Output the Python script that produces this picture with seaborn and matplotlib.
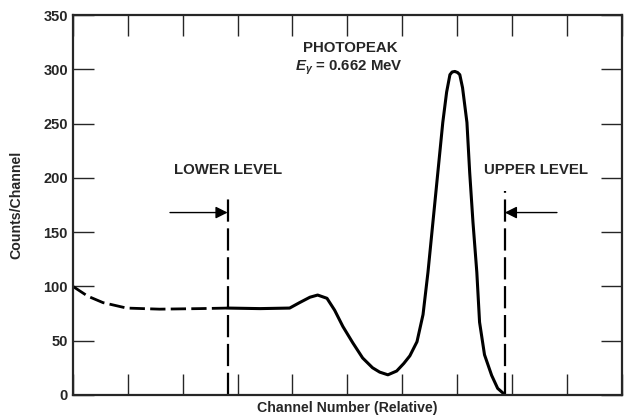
import numpy as np
import pandas as pd
import matplotlib
matplotlib.use("Agg")
import matplotlib.pyplot as plt
import seaborn as sns

# background part of the spectrum (dashed, below the lower level)
dash_ch = [0, 2.7, 5.5, 9.8, 15.8, 23.1, 28.2]
dash_counts = [100, 91, 85, 80, 79, 79.5, 80]

# measured spectrum between the levels (solid)
spec_ch = [28.2, 34.1, 39.5, 41.3, 43.2, 44.6, 46.3, 47.7, 49.2, 51.0, 52.8,
           54.6, 55.9, 57.4, 59.0, 60.3, 61.4, 62.7, 63.8, 64.7, 65.6, 66.5,
           67.4, 68.1, 68.7, 69.1, 69.6, 70.1, 70.5, 71.0, 71.8, 72.3, 72.9,
           73.6, 74.1, 75.0, 76.3, 77.4, 78.3, 78.7]
spec_counts = [80, 79.5, 80, 85, 90, 92, 89, 78, 63, 48, 34,
               25, 21, 18.5, 22, 29, 36, 49, 74, 113, 159, 205,
               251, 279, 295, 297.5, 298, 297, 295, 283, 251, 205, 159,
               113, 67, 37, 18, 6, 2, 0]

lower_level = 28.2
upper_level = 78.7
lower_top, upper_top = 184, 188
arrow_y = 168

y_ticks = [0, 50, 100, 150, 200, 250, 300, 350]
x_ticks = list(range(0, 101, 10))

sns.set_style("ticks")
plt.rcParams["font.family"] = ["Liberation Sans", "DejaVu Sans"]
plt.rcParams["font.weight"] = "bold"
plt.rcParams["mathtext.fontset"] = "custom"
plt.rcParams["mathtext.it"] = "Liberation Sans:italic:bold"
plt.rcParams["mathtext.rm"] = "Liberation Sans:bold"

fig = plt.figure(figsize=(6.28, 4.17), dpi=100)
ax = fig.add_axes([0.116, 0.053, 0.874, 0.911])

df_dash = pd.DataFrame({"ch": dash_ch, "counts": dash_counts})
df_spec = pd.DataFrame({"ch": spec_ch, "counts": spec_counts})

sns.lineplot(data=df_dash, x="ch", y="counts", ax=ax, color="black",
             lw=2.0, linestyle=(0, (5.5, 1.9)), sort=False)
sns.lineplot(data=df_spec, x="ch", y="counts", ax=ax, color="black",
             lw=2.2, sort=False)
for ln in ax.lines:
    ln.set_solid_joinstyle("round")
    ln.set_dash_joinstyle("round")

# discriminator levels
ax.plot([lower_level, lower_level], [0, lower_top], color="black", lw=1.6,
        linestyle=(0, (10, 3)))
ax.plot([upper_level, upper_level], [0, upper_top], color="black", lw=1.6,
        linestyle=(0, (10, 3)))
ax.annotate("", xy=(lower_level, arrow_y), xytext=(17.7, arrow_y),
            arrowprops=dict(arrowstyle="-|>", color="black", lw=1.0,
                            mutation_scale=18, shrinkA=0, shrinkB=0))
ax.annotate("", xy=(upper_level, arrow_y), xytext=(88.2, arrow_y),
            arrowprops=dict(arrowstyle="-|>", color="black", lw=1.0,
                            mutation_scale=18, shrinkA=0, shrinkB=0))

ax.text(lower_level, 207, "LOWER LEVEL", ha="center", va="center",
        fontsize=10.8, fontweight="bold")
ax.text(84.3, 207, "UPPER LEVEL", ha="center", va="center",
        fontsize=10.8, fontweight="bold")
ax.text(50.5, 320, "PHOTOPEAK", ha="center", va="center",
        fontsize=10.8, fontweight="bold")
ax.text(50.3, 301, r"$E_\gamma$ = 0.662 MeV", ha="center", va="center",
        fontsize=10.8, fontweight="bold")

ax.set_xlim(0, 100)
ax.set_ylim(0, 350)
ax.set_xticks(x_ticks)
ax.set_xticklabels([])
ax.set_yticks(y_ticks)
ax.set_yticklabels([str(v) for v in y_ticks], fontsize=10.5, fontweight="bold")
ax.tick_params(axis="both", direction="in", length=15, width=1.0,
               top=True, right=True, pad=3.5)
for s in ax.spines.values():
    s.set_linewidth(1.6)
    s.set_visible(True)

ax.set_xlabel("")
ax.set_ylabel("Counts/Channel", fontsize=10.2, fontweight="bold")
ax.yaxis.set_label_coords(-0.091, 0.5)
fig.text(0.553, 0.022, "Channel Number (Relative)", ha="center", va="center",
         fontsize=10.2, fontweight="bold")

fig.savefig("out.png", dpi=100)
